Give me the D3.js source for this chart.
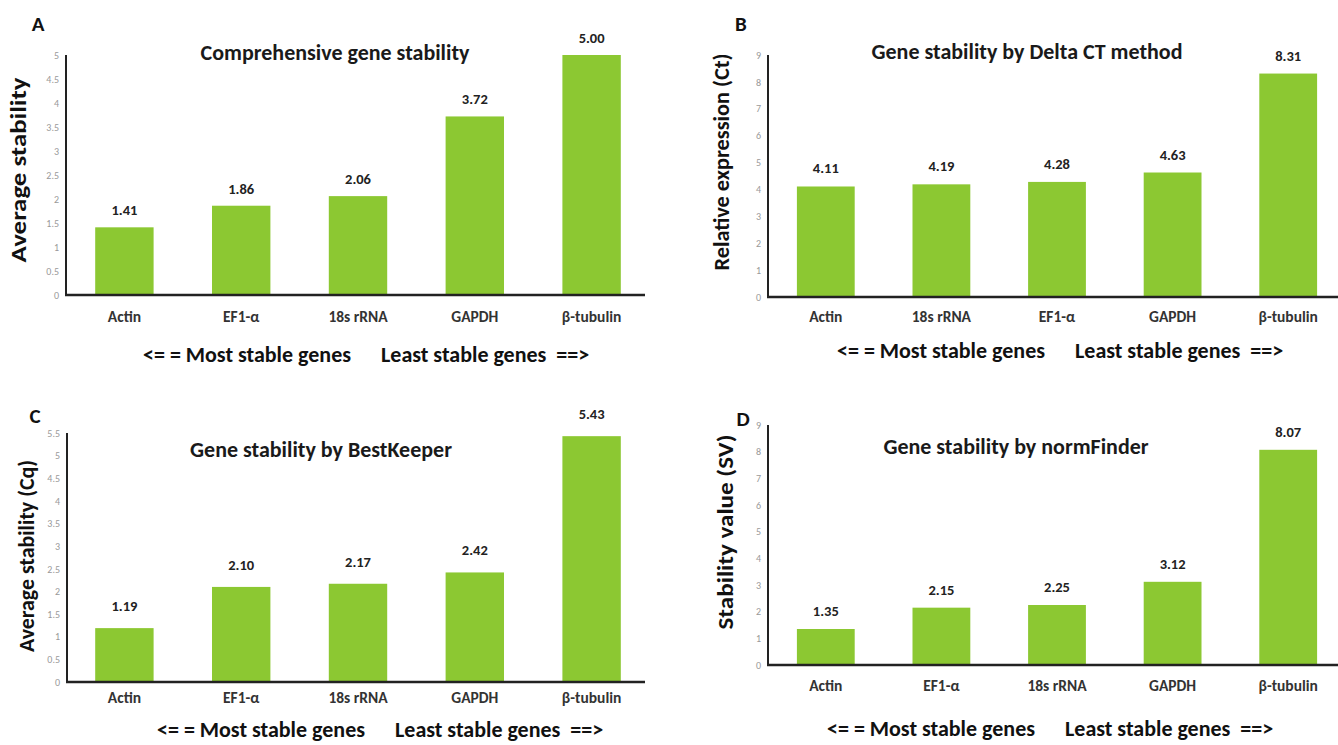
<!DOCTYPE html>
<html>
<head>
<meta charset="utf-8">
<script src="https://cdn.jsdelivr.net/npm/d3@7"></script>
<style>
  body { margin: 0; background: #fff; }
  svg { display: block; font-family: Carlito, Lato, sans-serif; }
</style>
</head>
<body>
<script>
// data for the four panels
const genesA = ["Actin", "EF1-α", "18s rRNA", "GAPDH", "β-tubulin"];
const valuesA = [1.41, 1.86, 2.06, 3.72, 5.00];
const genesB = ["Actin", "18s rRNA", "EF1-α", "GAPDH", "β-tubulin"];
const valuesB = [4.11, 4.19, 4.28, 4.63, 8.31];
const genesC = ["Actin", "EF1-α", "18s rRNA", "GAPDH", "β-tubulin"];
const valuesC = [1.19, 2.10, 2.17, 2.42, 5.43];
const genesD = ["Actin", "EF1-α", "18s rRNA", "GAPDH", "β-tubulin"];
const valuesD = [1.35, 2.15, 2.25, 3.12, 8.07];

const titles = ["Comprehensive gene stability", "Gene stability by Delta CT method",
                "Gene stability by BestKeeper", "Gene stability by normFinder"];
const yLabels = ["Average stability", "Relative expression (Ct)",
                 "Average stability (Cq)", "Stability value (SV)"];
const yMax = [5, 9, 5.5, 9];
const tickStep = [0.5, 1, 0.5, 1];
const letters = ["A", "B", "C", "D"];

const width = 1338, height = 745;
const bar_color = "#8cc832";
const axis_color = "#222";
const gap = 15; // half the gap between the two parts of the note

// layout of each panel (absolute pixel positions)
const panels = [
  { genes: genesA, values: valuesA, x0: 66, xEnd: 645, band: [66, 650], top: 55, base: 295,
    title: [335, 60], letter: [38, 31], ylab: [21, 170], ylabLen: 185, cat: 322, sub: 362, subMid: 366, valOff: 12 },
  { genes: genesB, values: valuesB, x0: 768, xEnd: 1338, band: [768, 1346], top: 55, base: 297,
    title: [1027, 59], letter: [741, 31], ylab: [724, 162], ylabLen: 217, cat: 322, sub: 358, subMid: 1060, valOff: 13 },
  { genes: genesC, values: valuesC, x0: 67, xEnd: 645, band: [66, 650], top: 433, base: 682,
    title: [321, 457], letter: [35, 423], ylab: [29, 556], ylabLen: 192, cat: 703, sub: 737, subMid: 380, valOff: 17 },
  { genes: genesD, values: valuesD, x0: 768, xEnd: 1338, band: [768, 1346], top: 425, base: 665,
    title: [1016, 454], letter: [743, 426], ylab: [728, 532], ylabLen: 195, cat: 691, sub: 736, subMid: 1050, valOff: 13 }
];

const svg = d3.select("body").append("svg")
  .attr("width", width)
  .attr("height", height);

panels.forEach((p, i) => {
  const g = svg.append("g");

  const x = d3.scaleBand()
    .domain(p.genes)
    .range(p.band)
    .paddingInner(0.5)
    .paddingOuter(0.25);

  const y = d3.scaleLinear()
    .domain([0, yMax[i]])
    .range([p.base, p.top]);

  // bars
  g.selectAll("rect.bar")
    .data(p.values)
    .enter()
    .append("rect")
    .attr("class", "bar")
    .attr("x", (d, j) => x(p.genes[j]))
    .attr("y", d => y(d))
    .attr("width", x.bandwidth())
    .attr("height", d => p.base - y(d))
    .attr("fill", bar_color);

  // value labels
  g.selectAll("text.val")
    .data(p.values)
    .enter()
    .append("text")
    .attr("class", "val")
    .attr("x", (d, j) => x(p.genes[j]) + x.bandwidth() / 2)
    .attr("y", d => y(d) - p.valOff)
    .attr("text-anchor", "middle")
    .attr("font-size", 14.5)
    .attr("font-weight", "bold")
    .attr("fill", "#222")
    .text(d => d.toFixed(2));

  // y axis (light grey tick labels, no tick marks)
  const yAxis = d3.axisLeft(y)
    .tickValues(d3.range(0, yMax[i] + 0.001, tickStep[i]))
    .tickFormat(d => +d.toFixed(1))
    .tickSize(0)
    .tickPadding(7);
  const ya = g.append("g")
    .attr("transform", `translate(${p.x0},0)`)
    .call(yAxis);
  ya.select(".domain").remove();
  ya.selectAll("text")
    .attr("fill", "#999")
    .attr("font-size", 10)
    .attr("font-family", "Carlito, Lato, sans-serif");

  // axis lines
  g.append("line")
    .attr("x1", p.x0).attr("x2", p.x0)
    .attr("y1", p.top).attr("y2", p.base)
    .attr("stroke", axis_color)
    .attr("stroke-width", 2);
  g.append("line")
    .attr("x1", p.x0 - 1).attr("x2", p.xEnd)
    .attr("y1", p.base).attr("y2", p.base)
    .attr("stroke", axis_color)
    .attr("stroke-width", 2.5);

  // category labels
  g.selectAll("text.cat")
    .data(p.genes)
    .enter()
    .append("text")
    .attr("class", "cat")
    .attr("x", d => x(d) + x.bandwidth() / 2)
    .attr("y", p.cat)
    .attr("text-anchor", "middle")
    .attr("font-size", 15.5)
    .attr("font-weight", "bold")
    .attr("fill", "#333")
    .text(d => d);

  // chart title
  g.append("text")
    .attr("x", p.title[0])
    .attr("y", p.title[1])
    .attr("text-anchor", "middle")
    .attr("font-size", 22)
    .attr("font-weight", "bold")
    .attr("fill", "#1a1a1a")
    .text(titles[i]);

  // panel letter
  g.append("text")
    .attr("x", p.letter[0])
    .attr("y", p.letter[1])
    .attr("text-anchor", "middle")
    .attr("font-size", 21)
    .attr("font-weight", "bold")
    .attr("fill", "#111")
    .text(letters[i]);

  // y axis title (stretched along the axis like the source figure)
  g.append("text")
    .attr("transform", `translate(${p.ylab[0]},${p.ylab[1]}) rotate(-90)`)
    .attr("text-anchor", "middle")
    .attr("dominant-baseline", "middle")
    .attr("font-size", 22)
    .attr("font-weight", "bold")
    .attr("fill", "#111")
    .attr("textLength", p.ylabLen)
    .attr("lengthAdjust", "spacingAndGlyphs")
    .text(yLabels[i]);

  // direction note under the axis
  g.append("text")
    .attr("x", p.subMid - gap)
    .attr("y", p.sub)
    .attr("text-anchor", "end")
    .attr("font-size", 22)
    .attr("font-weight", "bold")
    .attr("fill", "#111")
    .text("<= = Most stable genes");
  g.append("text")
    .attr("x", p.subMid + gap)
    .attr("y", p.sub)
    .attr("text-anchor", "start")
    .attr("font-size", 22)
    .attr("font-weight", "bold")
    .attr("fill", "#111")
    .attr("xml:space", "preserve")
    .text("Least stable genes  ==>");
});
</script>
</body>
</html>
